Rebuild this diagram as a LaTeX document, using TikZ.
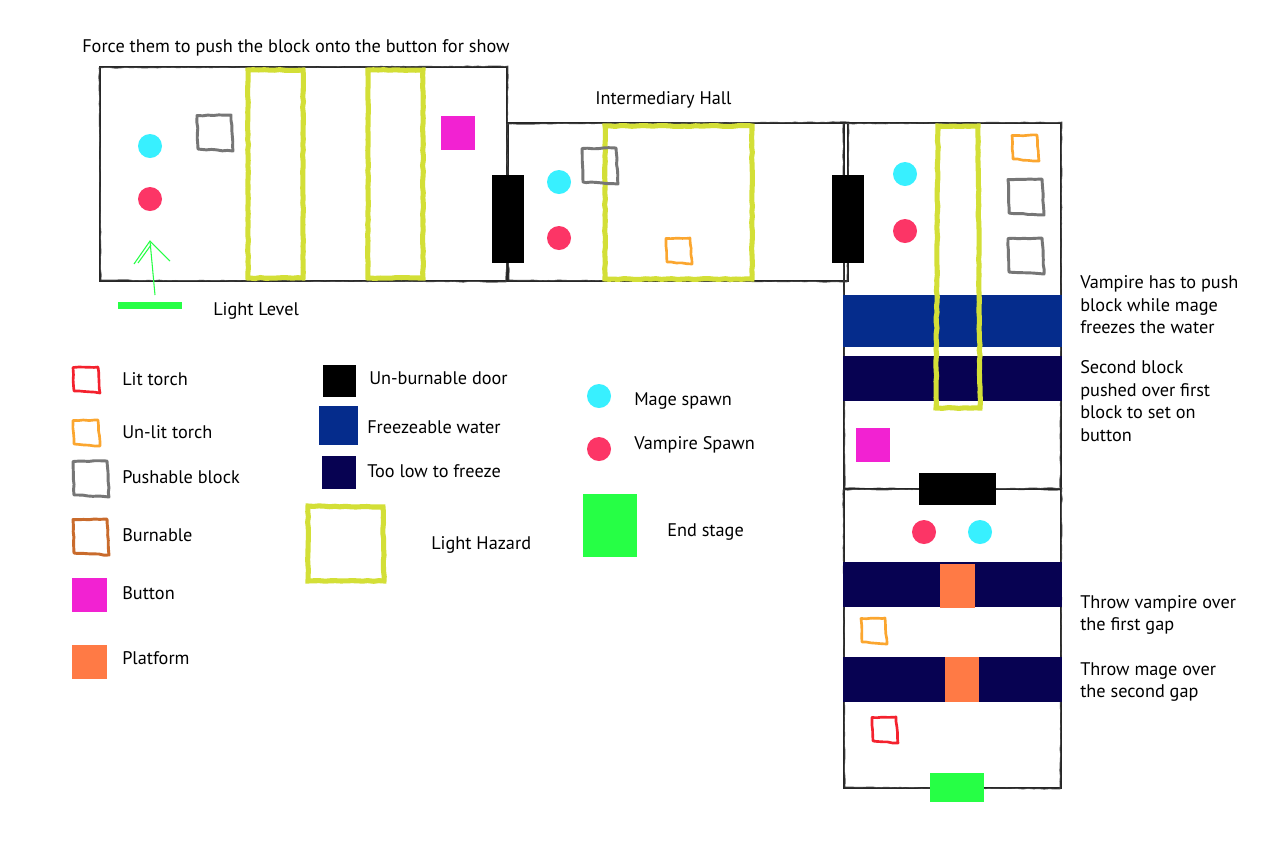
\documentclass[tikz,border=0pt]{standalone}
\usepackage{fontspec}
\usetikzlibrary{decorations.pathmorphing}
\setmainfont{PT Sans}
\definecolor{cmage}{HTML}{38F0FF}
\definecolor{cvamp}{HTML}{FC3566}
\definecolor{chaz}{HTML}{D3DF37}
\definecolor{cbtn}{HTML}{F222D2}
\definecolor{cplat}{HTML}{FF7A45}
\definecolor{cwater}{HTML}{052C8C}
\definecolor{clow}{HTML}{070252}
\definecolor{cend}{HTML}{26FF45}
\definecolor{clit}{HTML}{F4222E}
\definecolor{cunlit}{HTML}{FBA62F}
\definecolor{cblock}{HTML}{767676}
\definecolor{cburn}{HTML}{C96B2C}
\tikzset{
 x=0.75pt,y=-0.75pt,
 lbl/.style={inner sep=0pt,anchor=base west,font=\fontsize{13.7}{16.9}\selectfont,text=black},
 mlbl/.style={inner sep=0pt,anchor=west,align=left,font=\fontsize{13.7}{16.9}\selectfont,text=black},
 spot/.style={circle,inner sep=0pt,minimum size=18pt},
 rough/.style={decorate,decoration={random steps,segment length=4pt,amplitude=0.35pt}},
 room/.style={draw=black!85,line width=0.8pt,line join=miter},
 roomb/.style={draw=black!70,line width=0.5pt,rough},
 hazard/.style={draw=chaz,line width=3.8pt,rough,line join=miter},
}
% sketchy square: x1 y1 x2 y2 colour width
\newcommand{\skbox}[6]{%
 \draw[draw=#5,line width=#6pt,line join=round,rough]
  (#1,#2+0.5) -- (#3-1,#2) -- (#3+1,#4+1) -- (#1+1,#4-1) -- cycle;}
\newcommand{\flbox}[5]{\fill[#5] (#1,#2) rectangle (#3,#4);}
\newcommand{\roombox}[4]{%
 \draw[room] (#1,#2) rectangle (#3,#4);
 \draw[roomb] (#1-1,#2+1) -- (#3+1,#2-1) -- (#3-1,#4+1) -- (#1+1,#4-1) -- cycle;}
\begin{document}
\begin{tikzpicture}
\useasboundingbox (0,0) rectangle (1278,844);
\fill[white] (0,0) rectangle (1278,844);
% rooms
\roombox{100}{67}{507}{281}
\roombox{508}{123}{848}{281}
\roombox{844}{123}{1061}{489}
\roombox{844}{489}{1061}{788}
% water
\flbox{843}{295}{1062}{347}{cwater}
\flbox{843}{356}{1062}{401}{clow}
\flbox{843}{562}{1062}{607}{clow}
\flbox{843}{657}{1062}{702}{clow}
% hazards
\draw[hazard] (248,70) -- (303,70) -- (303,278) -- (248,278) -- cycle;
\draw[hazard] (368,70) -- (423,70) -- (423,278) -- (368,278) -- cycle;
\draw[hazard] (605,126) -- (752,126) -- (752,279) -- (605,279) -- cycle;
\draw[hazard] (938,126) -- (978,126) -- (980,408) -- (936,408) -- cycle;
% doors
\flbox{492}{175}{524}{263}{black}
\flbox{832}{175}{864}{263}{black}
\flbox{919}{473}{996}{505}{black}
% room 1
\node[spot,fill=cmage] (m1) at (150,146) {};
\node[spot,fill=cvamp] (v1) at (150,199) {};
\skbox{197}{115}{232}{150}{cblock}{2.2}
\flbox{441}{116}{475}{150}{cbtn}
\coordinate (arrowfoot) at (155,295);
\coordinate (arrowtip) at (150,241);
\coordinate (arrowl) at (134,264);
\coordinate (arrowr) at (170,261);
\draw[cend,line width=0.8pt] (arrowfoot) -- (arrowtip);
\draw[cend,line width=0.8pt] (arrowl) -- (arrowtip) -- (arrowr);
\draw[cend,line width=0.8pt] (138,263) -- (151,245);
\flbox{118}{302}{182}{309}{cend}
\node[lbl] (t1) at (82,52) {Force them to push the block onto the button for show};
\node[lbl] (t2) at (595,104) {Intermediary Hall};
\node[lbl] (t3) at (213,315) {Light Level};
% hall
\node[spot,fill=cmage] (m2) at (559,182) {};
\node[spot,fill=cvamp] (v2) at (559,238) {};
\skbox{582}{148}{617}{183}{cblock}{2.2}
\skbox{666}{238}{691}{263}{cunlit}{2}
% room 3
\node[spot,fill=cmage] (m3) at (905,174) {};
\node[spot,fill=cvamp] (v3) at (905,231) {};
\skbox{1012}{135}{1038}{160}{cunlit}{2}
\skbox{1008}{179}{1043}{214}{cblock}{2.2}
\skbox{1008}{238}{1043}{273}{cblock}{2.2}
\flbox{856}{428}{890}{462}{cbtn}
% room 4
\node[spot,fill=cvamp] (v4) at (924,532) {};
\node[spot,fill=cmage] (m4) at (980,532) {};
\flbox{940}{564}{975}{608}{cplat}
\flbox{945}{657}{979}{702}{cplat}
\skbox{861}{618}{886}{643}{cunlit}{2}
\skbox{872}{717}{897}{742}{clit}{2}
\flbox{930}{773}{984}{802}{cend}
% right labels
\node[mlbl] (t4) at (1080,305) {Vampire has to push\\block while mage\\freezes the water};
\node[mlbl] (t5) at (1080,401) {Second block\\pushed over first\\block to set on\\button};
\node[mlbl] (t6) at (1080,615) {Throw vampire over\\the first gap};
\node[mlbl] (t7) at (1080,682) {Throw mage over\\the second gap};
% legend column 1
\skbox{73}{367}{99}{392}{clit}{2}
\skbox{73}{420}{99}{445}{cunlit}{2}
\skbox{73}{461}{108}{496}{cblock}{2.2}
\skbox{73}{519}{108}{554}{cburn}{2.2}
\flbox{72}{578}{107}{612}{cbtn}
\flbox{72}{645}{107}{679}{cplat}
\node[lbl] at (122,385) {Lit torch};
\node[lbl] at (122,438) {Un-lit torch};
\node[lbl] at (122,483) {Pushable block};
\node[lbl] at (122,541) {Burnable};
\node[lbl] at (122,599) {Button};
\node[lbl] at (122,664) {Platform};
% legend column 2
\flbox{323}{365}{356}{397}{black}
\flbox{319}{406}{358}{445}{cwater}
\flbox{322}{456}{356}{489}{clow}
\draw[hazard] (308,506) -- (383,507) -- (384,581) -- (308,581) -- cycle;
\node[lbl] at (369,384) {Un-burnable door};
\node[lbl] at (367,433) {Freezeable water};
\node[lbl] at (367,477) {Too low to freeze};
\node[lbl] at (431,549) {Light Hazard};
% legend column 3
\node[spot,fill=cmage] (lm) at (599,396) {};
\node[spot,fill=cvamp] (lv) at (599,449) {};
\flbox{583}{494}{637}{557}{cend}
\node[lbl] at (634,405) {Mage spawn};
\node[lbl] at (634,449) {Vampire Spawn};
\node[lbl] at (667,536) {End stage};
\end{tikzpicture}
\end{document}
